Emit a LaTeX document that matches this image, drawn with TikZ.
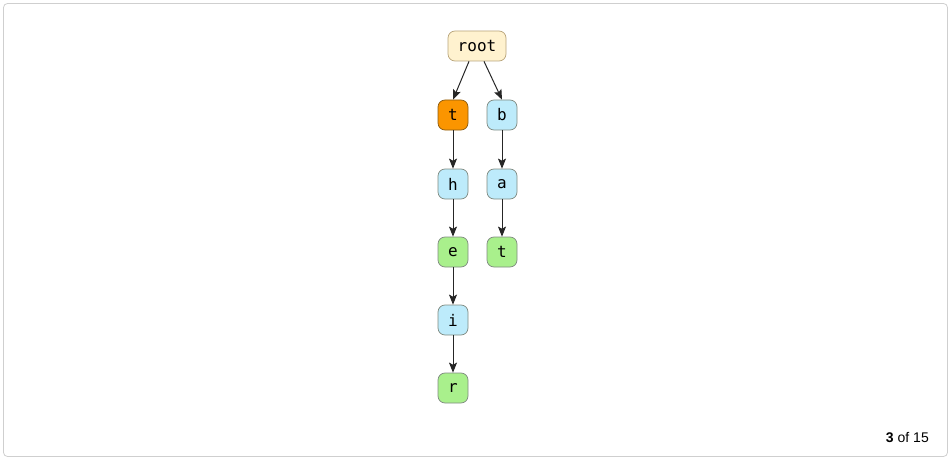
\documentclass[tikz,border=0pt]{standalone}
\usepackage{fontspec}
\setmainfont{Liberation Sans}
\newfontfamily\monofnt{DejaVu Sans Mono}
\usetikzlibrary{arrows.meta}
\definecolor{rootfill}{HTML}{FFF2CF}
\definecolor{rootdraw}{HTML}{B8A47A}
\definecolor{curfill}{HTML}{FB9500}
\definecolor{curdraw}{HTML}{8A5A10}
\definecolor{bluefill}{HTML}{BDEBFB}
\definecolor{greenfill}{HTML}{A9F08C}
\definecolor{ndraw}{HTML}{7F8A80}
\definecolor{frame}{HTML}{CFCFCF}
\tikzset{
  x=1pt, y=-1pt,
  tnode/.style={rounded corners=7pt, draw=ndraw, line width=0.7pt, minimum width=30pt, minimum height=30pt, inner sep=0pt, font=\monofnt\fontsize{16}{16}\selectfont},
  rootnode/.style={tnode, fill=rootfill, draw=rootdraw, minimum width=58pt},
  curnode/.style={tnode, fill=curfill, draw=curdraw},
  bluenode/.style={tnode, fill=bluefill},
  greennode/.style={tnode, fill=greenfill},
  edge/.style={-{Stealth[length=10pt,width=8pt,inset=2pt]}, line width=1pt, draw=black!85}
}
\begin{document}
\begin{tikzpicture}
\useasboundingbox (0,0) rectangle (951,460);
\draw[frame, line width=0.8pt, rounded corners=4pt] (3.5,3.5) rectangle (947.5,456.5);
\node[rootnode] (root) at (477,46) {root};
\node[curnode] (t1) at (453,115) {t};
\node[bluenode] (b) at (502,115) {b};
\node[bluenode] (h) at (453,184) {h};
\node[bluenode] (a) at (502,184) {a};
\node[greennode] (e) at (453,252) {e};
\node[greennode] (t2) at (502,252) {t};
\node[bluenode] (i) at (453,320) {i};
\node[greennode] (r) at (453,388) {r};
\draw[edge] (root.south) ++(-8,0) coordinate (rs1) -- (t1.north);
\draw[edge] (root.south) ++(7,0) coordinate (rs2) -- (b.north);
\draw[edge] (t1) -- (h);
\draw[edge] (h) -- (e);
\draw[edge] (e) -- (i);
\draw[edge] (i) -- (r);
\draw[edge] (b) -- (a);
\draw[edge] (a) -- (t2);
\node[anchor=east, font=\fontsize{14}{14}\selectfont, inner sep=0pt] (pg) at (929,438) {\textbf{3} of 15};
\end{tikzpicture}
\end{document}
